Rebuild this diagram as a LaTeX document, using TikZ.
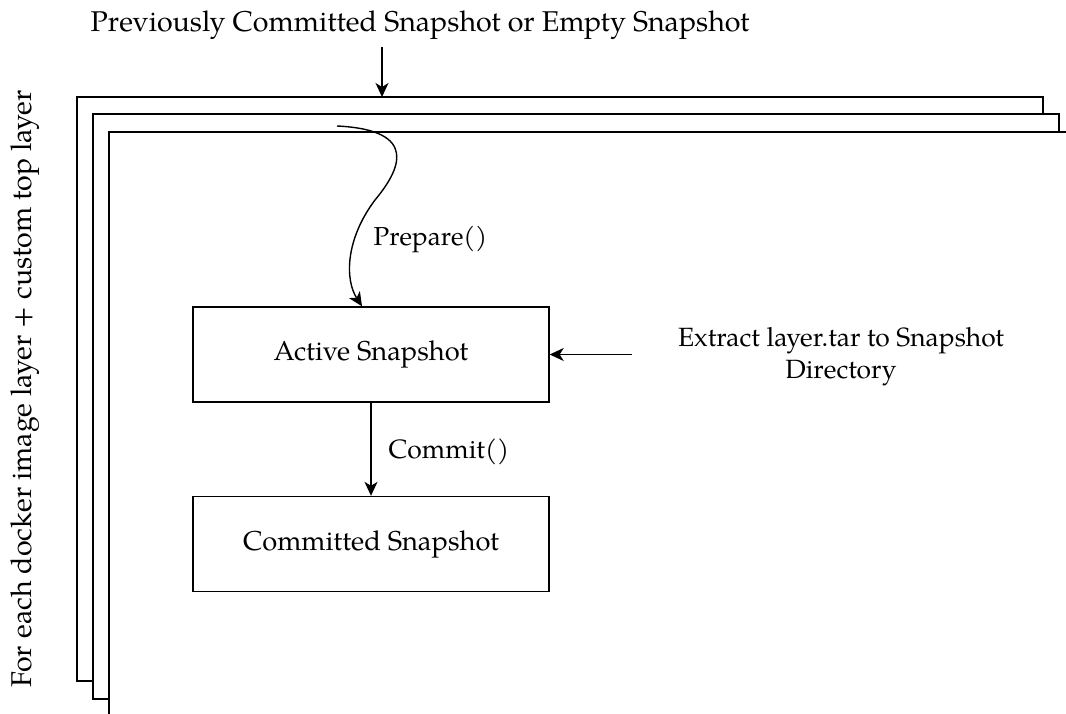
\documentclass[tikz,border=0pt]{standalone}
\usepackage{fontspec}
\setmainfont{texgyrepagella}[Extension=.otf,UprightFont=*-regular]
\usetikzlibrary{arrows.meta}
\begin{document}
\begin{tikzpicture}[x=1pt,y=-1pt,line width=1.4pt,
  arr/.style={-{Stealth[length=14pt,width=13pt,inset=4pt]}},
  frame/.style={draw,fill=white},
  box/.style={draw,minimum width=356pt,minimum height=95pt,inner sep=0pt,font=\fontsize{27.3}{32}\selectfont},
  lbl/.style={inner sep=0pt}]
\useasboundingbox (0,0) rectangle (1066,714);
\clip (0,0) rectangle (1066,714);
\draw[frame] (77,97) rectangle (1043,681);
\draw[frame] (93,114) rectangle (1059,699);
\draw[frame] (109,132) rectangle (1100,760);
\node[lbl,anchor=base west,font=\fontsize{28.6}{34}\selectfont] (title) at (90,32) {Previously Committed Snapshot or Empty Snapshot};
\coordinate (tstart) at (382,47);
\coordinate (ttop) at (382,97);
\draw[arr] (tstart) -- (ttop);
\node[lbl,rotate=90,font=\fontsize{28.6}{34}\selectfont] (side) at (25,389) {For each docker image layer + custom top layer};
\node[box] (active) at (371,354.5) {Active Snapshot};
\node[box] (committed) at (371,544) {Committed Snapshot};
\coordinate (ps) at (337,126);
\draw[arr] (ps) .. controls (420,130) and (400,170) .. (375,200) .. controls (345,240) and (345,280) .. (active.north -| 362,0);
\node[lbl,anchor=base west,font=\fontsize{26}{31}\selectfont] (prep) at (373,246) {Prepare()};
\draw[arr] (active.south) -- (committed.north);
\node[lbl,anchor=base west,font=\fontsize{26.5}{31}\selectfont] (commit) at (388,458) {Commit()};
\node[lbl,align=center,font=\fontsize{26.4}{32}\selectfont] (extract) at (841,357) {Extract layer.tar to Snapshot\\Directory};
\coordinate (ex) at (632,354.5);
\draw[arr] (ex) -- (active.east);
\end{tikzpicture}
\end{document}
